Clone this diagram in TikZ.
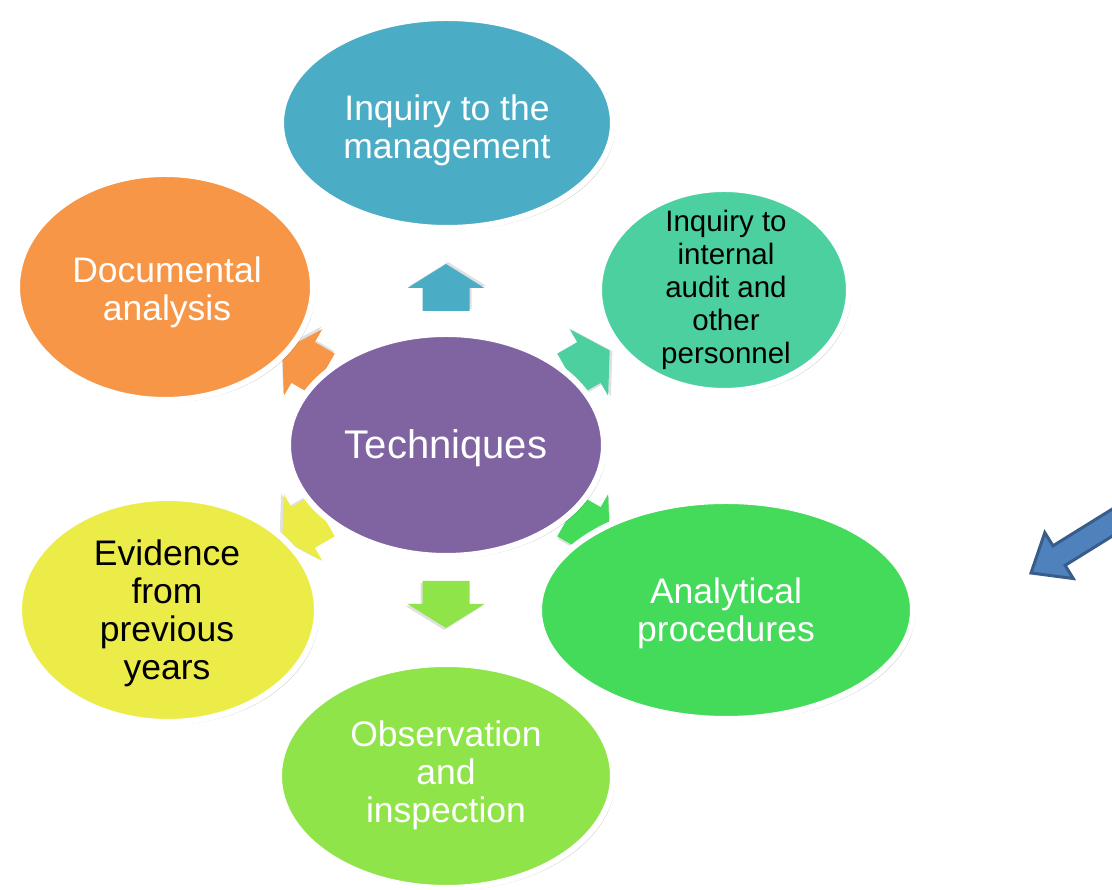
\documentclass[tikz,border=0pt]{standalone}
\usepackage{fontspec}
\setmainfont{Liberation Sans}
\usetikzlibrary{shapes.geometric,shadows}
\definecolor{cTeal}{RGB}{75,172,198}
\definecolor{cMint}{RGB}{76,208,160}
\definecolor{cGreen}{RGB}{68,218,90}
\definecolor{cLime}{RGB}{143,228,74}
\definecolor{cYellow}{RGB}{236,236,72}
\definecolor{cOrange}{RGB}{247,150,70}
\definecolor{cPurple}{RGB}{128,100,162}
\definecolor{cBlue}{RGB}{79,129,189}
\definecolor{cBlueD}{RGB}{56,93,138}
\tikzset{
  bub/.style={ellipse, draw=white, line width=6pt, inner sep=0pt,
    drop shadow={shadow xshift=2.5pt, shadow yshift=-2.5pt, fill=black, opacity=0.2}},
  lbl/.style={align=center, font=\fontsize{35.5}{38}\selectfont, text=white, inner sep=0pt},
  lblsmall/.style={align=center, font=\fontsize{29.5}{33}\selectfont, text=black, inner sep=0pt},
}
\begin{document}
\begin{tikzpicture}[x=1pt,y=1pt]
\useasboundingbox (0,0) rectangle (1112,890);
\clip (0,0) rectangle (1112,890);
\coordinate (C) at (446,445);
% radial block arrows
\foreach \ang/\col/\rad in {90/cTeal/158, 30/cMint/166, -30/cGreen/166, -90/cLime/160, 210/cYellow/166, 150/cOrange/166} {
  \begin{scope}[shift={(C)}, shift={(\ang:\rad)}, rotate=\ang]
    \fill[black, opacity=0.12, shift={(2,-2)}] (-24,-23.5) -- (-1,-23.5) -- (-1,-38.5) -- (23,0) -- (-1,38.5) -- (-1,23.5) -- (-24,23.5) -- cycle;
    \fill[\col] (-24,-23.5) -- (-1,-23.5) -- (-1,-38.5) -- (23,0) -- (-1,38.5) -- (-1,23.5) -- (-24,23.5) -- cycle;
  \end{scope}
}
% outer ellipses
\node[bub, fill=cTeal,   minimum width=332pt, minimum height=210pt] (mgmt) at (447,767) {};
\node[bub, fill=cMint,   minimum width=250pt, minimum height=202pt] (audit) at (724,600) {};
\node[bub, fill=cGreen,  minimum width=374pt, minimum height=218pt] (anal) at (726,280) {};
\node[bub, fill=cLime,   minimum width=334pt, minimum height=224pt] (obs) at (446,114) {};
\node[bub, fill=cYellow, minimum width=298pt, minimum height=224pt] (evid) at (168,280) {};
\node[bub, fill=cOrange, minimum width=296pt, minimum height=226pt] (doc) at (165,603) {};
% center
\node[bub, fill=cPurple, minimum width=316pt, minimum height=222pt] (tech) at (C) {};
% labels
\node[lbl] (tmgmt) at (447,760) {Inquiry to the\\management};
\node[lblsmall] (taudit) at (726,600) {Inquiry to\\internal\\audit and\\other\\personnel};
\node[lbl] (tanal) at (726,277) {Analytical\\procedures};
\node[lbl] (tobs) at (446,115) {Observation\\and\\inspection};
\node[lbl, text=black] (tevid) at (167,277) {Evidence\\from\\previous\\years};
\node[lbl] (tdoc) at (167,598) {Documental\\analysis};
\node[lbl, font=\fontsize{40}{44}\selectfont] (ttech) at (446,442) {Techniques};
% blue arrow at right
\begin{scope}[shift={(1031,317)}, rotate=211.8]
  \draw[draw=cBlueD, fill=cBlue, line width=3pt, line join=miter]
    (0,0) -- (-33,27) -- (-33,11.5) -- (-170,11.5) -- (-170,-11.5) -- (-33,-11.5) -- (-33,-27) -- cycle;
\end{scope}
\end{tikzpicture}
\end{document}
